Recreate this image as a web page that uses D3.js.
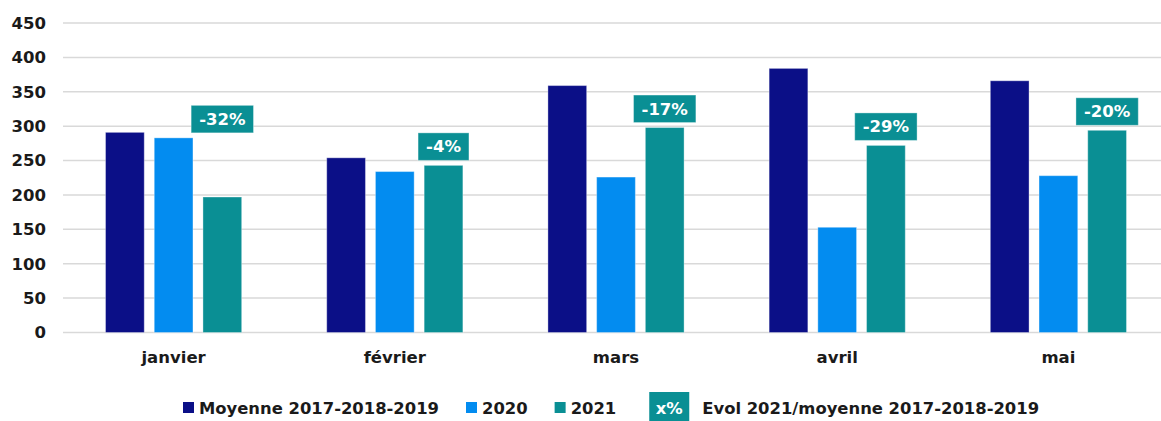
<!DOCTYPE html>
<html lang="fr">
<head>
<meta charset="UTF-8">
<title>Evol 2021</title>
<script src="https://cdn.jsdelivr.net/npm/d3@7"></script>
<style>
  body { margin: 0; background: #fff; }
  text { font-family: "DejaVu Sans", sans-serif; font-weight: bold; }
</style>
</head>
<body>
<div id="chart"></div>
<script>
// données
var months = ["janvier", "février", "mars", "avril", "mai"];
var seriesNames = ["Moyenne 2017-2018-2019", "2020", "2021"];
var moyenne = [291, 254, 359, 384, 366];
var v2020 = [283, 234, 226, 153, 228];
var v2021 = [197, 243, 298, 272, 294];
var evol = ["-32%", "-4%", "-17%", "-29%", "-20%"];
var yTicks = [0, 50, 100, 150, 200, 250, 300, 350, 400, 450];
var colors = ["#0b0f87", "#038cf0", "#0a8f94"];

var width = 1161, height = 421;
var fontSize = 16.5;
var legendSize = 16.4;

var svg = d3.select("#chart").append("svg")
    .attr("width", width)
    .attr("height", height);

var y = d3.scaleLinear().domain([0, 450]).range([332.5, 23]);
var x = d3.scaleBand().domain(months).range([63, 1169]);
var xs = d3.scaleBand().domain(seriesNames).range([0, x.bandwidth()])
    .paddingInner(0.205).paddingOuter(0.873);

// grille
svg.append("g").selectAll("line")
    .data(yTicks)
    .enter().append("line")
    .attr("x1", 63).attr("x2", width)
    .attr("y1", d => y(d)).attr("y2", d => y(d))
    .attr("stroke", "#d9d9d9")
    .attr("stroke-width", 1.5);

// axe Y
var yAxis = svg.append("g")
    .attr("transform", "translate(46,0)")
    .call(d3.axisLeft(y).tickValues(yTicks).tickSize(0).tickPadding(0));
yAxis.select(".domain").remove();
yAxis.selectAll("text")
    .style("font-size", fontSize + "px")
    .attr("fill", "#1a1a1a");

// axe X
var xAxis = svg.append("g")
    .attr("transform", "translate(0,332.5)")
    .call(d3.axisBottom(x).tickSize(0).tickPadding(0));
xAxis.select(".domain").remove();
xAxis.selectAll("text")
    .attr("dy", null)
    .attr("y", 30)
    .style("font-size", fontSize + "px")
    .attr("fill", "#1a1a1a");

// barres
var allValues = [moyenne, v2020, v2021];
var rows = months.map((m, i) => ({
    month: m,
    values: seriesNames.map((s, k) => ({ serie: s, k: k, value: allValues[k][i] }))
}));

var groups = svg.append("g").selectAll("g")
    .data(rows)
    .enter().append("g")
    .attr("transform", d => "translate(" + x(d.month) + ",0)");

groups.selectAll("rect")
    .data(d => d.values)
    .enter().append("rect")
    .attr("x", d => xs(d.serie))
    .attr("y", d => y(d.value))
    .attr("width", xs.bandwidth())
    .attr("height", d => y(0) - y(d.value))
    .attr("fill", d => colors[d.k])
    .attr("stroke", "#ffffff")
    .attr("stroke-opacity", 0.35)
    .attr("stroke-width", 1);

// étiquettes d'évolution
var labels = groups.append("g")
    .attr("transform", (d, i) => {
        var cx = xs("2021") + xs.bandwidth() / 2;
        var top = y(Math.max(v2020[i], v2021[i])) - 5;
        return "translate(" + cx + "," + top + ")";
    });

labels.each(function (d, i) {
    var g = d3.select(this);
    var t = g.append("text")
        .attr("text-anchor", "middle")
        .attr("y", -8)
        .attr("fill", "#fff")
        .style("font-size", fontSize + "px")
        .text(evol[i]);
    var w = t.node().getComputedTextLength() + 16;
    g.insert("rect", "text")
        .attr("x", -w / 2)
        .attr("y", -27.5)
        .attr("width", w)
        .attr("height", 27.5)
        .attr("fill", colors[2])
        .attr("stroke", "#ffffff")
        .attr("stroke-opacity", 0.35);
});

// légende
var legend = svg.append("g").attr("transform", "translate(183,414)");
var lx = 0;
seriesNames.forEach((s, k) => {
    legend.append("rect")
        .attr("x", lx).attr("y", -12)
        .attr("width", 11).attr("height", 11)
        .attr("fill", colors[k]);
    var t = legend.append("text")
        .attr("x", lx + 16)
        .attr("fill", "#1a1a1a")
        .style("font-size", legendSize + "px")
        .text(s);
    lx += 16 + t.node().getComputedTextLength() + 27;
});
lx += 6;
legend.append("rect")
    .attr("x", lx).attr("y", -22)
    .attr("width", 40).attr("height", 32)
    .attr("fill", colors[2]);
legend.append("text")
    .attr("x", lx + 20)
    .attr("text-anchor", "middle")
    .attr("fill", "#fff")
    .style("font-size", legendSize + "px")
    .text("x%");
legend.append("text")
    .attr("x", lx + 53)
    .attr("fill", "#1a1a1a")
    .style("font-size", legendSize + "px")
    .text("Evol 2021/moyenne 2017-2018-2019");
</script>
</body>
</html>
